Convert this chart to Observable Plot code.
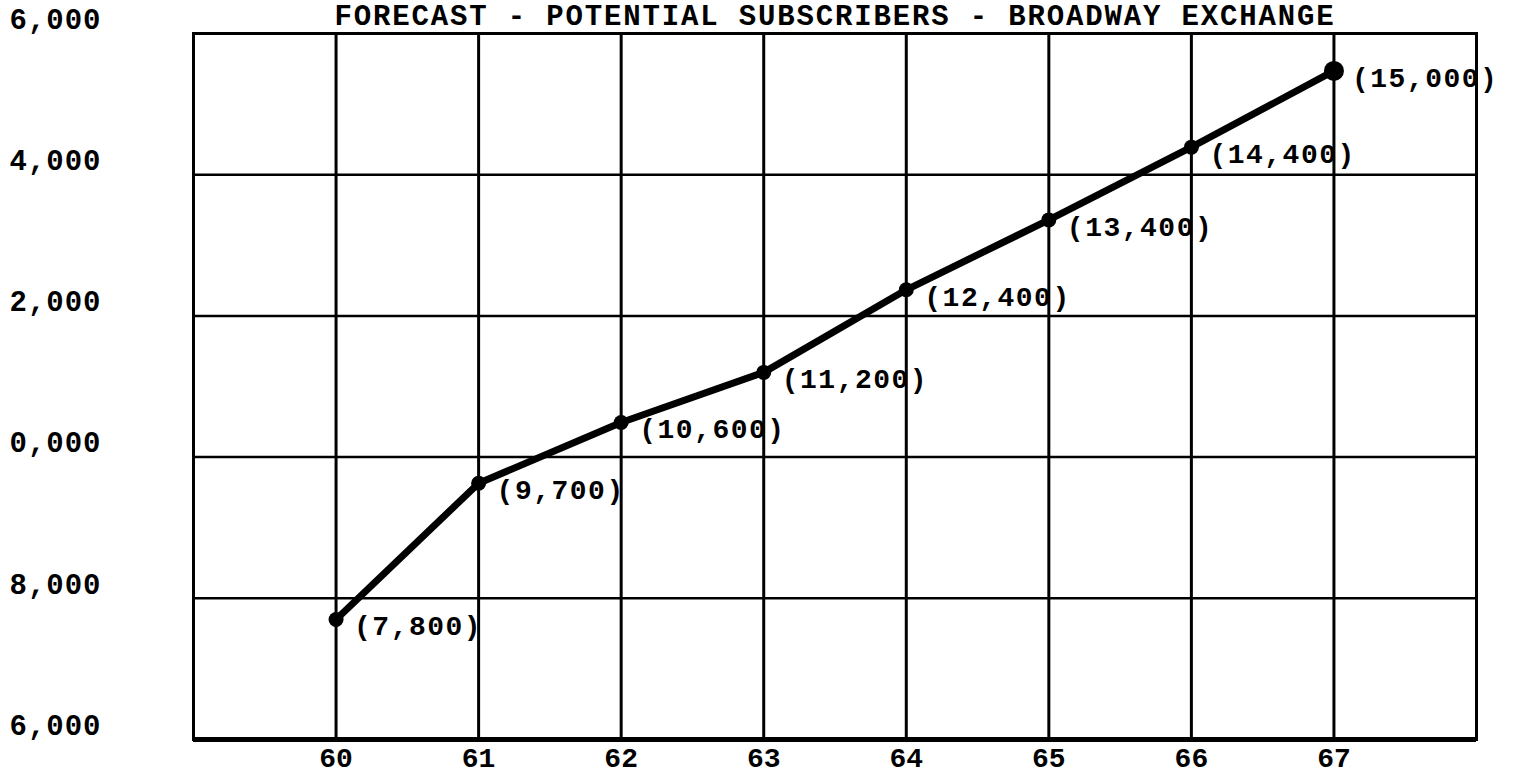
<!DOCTYPE html>
<html><head><meta charset="utf-8">
<script src="https://cdn.jsdelivr.net/npm/d3@7"></script>
<script src="https://cdn.jsdelivr.net/npm/@observablehq/plot@0.6"></script>
<style>
html,body{margin:0;padding:0;background:#fff;}
#chart{width:1528px;height:776px;overflow:hidden;}
</style></head><body><div id="chart"></div>
<script>
const title = "FORECAST - POTENTIAL SUBSCRIBERS - BROADWAY EXCHANGE";
const years = [60, 61, 62, 63, 64, 65, 66, 67];
const subscribers = [7700, 9630, 10490, 11200, 12370, 13360, 14390, 15470];
const pointLabels = ["(7,800)", "(9,700)", "(10,600)", "(11,200)", "(12,400)", "(13,400)", "(14,400)", "(15,000)"];
const yTicks = [16000, 14000, 12000, 10000, 8000, 6000];
const yTickLabels = ["6,000", "4,000", "2,000", "0,000", "8,000", "6,000"];
const xTicks = [60, 61, 62, 63, 64, 65, 66, 67];
const xTickLabels = ["60", "61", "62", "63", "64", "65", "66", "67"];
const hGrid = [8000, 10000, 12000, 14000];

const data = years.map((y, i) => ({year: y, value: subscribers[i], label: pointLabels[i]}));
const FONT = "'Liberation Mono', 'Courier New', monospace";

const chart = Plot.plot({
  width: 1528,
  height: 776,
  marginLeft: 193,
  marginRight: 52,
  marginTop: 33,
  marginBottom: 37,
  style: {fontFamily: FONT, background: "#fff", color: "#000"},
  x: {domain: [59, 68], axis: null},
  y: {domain: [6000, 16000], axis: null},
  r: {type: "identity"},
  marks: [
    Plot.ruleY(hGrid, {stroke: "#000", strokeWidth: 2.5}),
    Plot.ruleX(xTicks, {stroke: "#000", strokeWidth: 3}),
    Plot.frame({stroke: "#000", strokeWidth: 3}),
    Plot.ruleY([6000], {stroke: "#000", strokeWidth: 5}),
    Plot.axisY({
      ticks: yTicks, tickSize: 0, tickPadding: 92, dy: -14,
      tickFormat: d => yTickLabels[yTicks.indexOf(d)],
      fontSize: 29, fontWeight: "bold", label: null
    }),
    Plot.axisX({
      ticks: xTicks, tickSize: 0, tickPadding: 8,
      tickFormat: d => xTickLabels[xTicks.indexOf(d)],
      fontSize: 28, fontWeight: "bold", label: null
    }),
    Plot.line(data, {x: "year", y: "value", stroke: "#000", strokeWidth: 7, strokeLinejoin: "round", strokeLinecap: "round"}),
    Plot.dot(data, {x: "year", y: "value", fill: "#000", r: (d, i) => i === data.length - 1 ? 10 : 7.5}),
    Plot.text(data, {x: "year", y: "value", text: "label", textAnchor: "start", dx: 18, dy: 7,
      fontSize: 28, fontWeight: "bold", fill: "#000"}),
    Plot.text([title], {frameAnchor: "top", lineAnchor: "top", dy: -29, fontSize: 29, fontWeight: "bold", fill: "#000"})
  ]
});
document.getElementById("chart").appendChild(chart);
const allText = d3.select(chart).selectAll("text");
allText.filter(function() { return pointLabels.includes(this.textContent); })
  .attr("letter-spacing", "1.5").style("letter-spacing", "1.5px");
allText.filter(function() { return yTickLabels.includes(this.textContent); })
  .attr("letter-spacing", "1").style("letter-spacing", "1px");
allText.filter(function() { return this.textContent === title; })
  .attr("letter-spacing", "1.85").style("letter-spacing", "1.85px");
</script></body></html>
